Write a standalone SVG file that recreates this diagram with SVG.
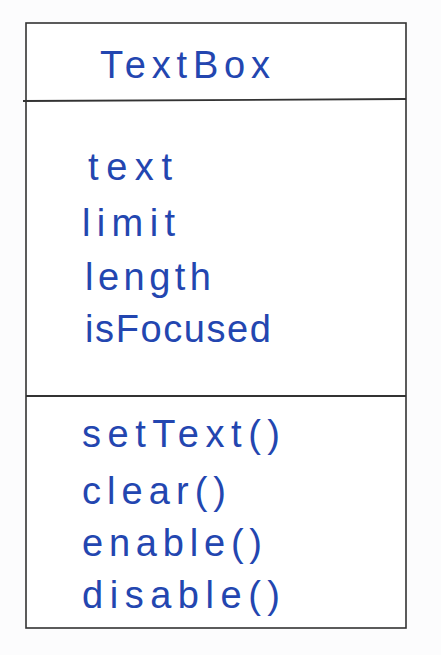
<svg xmlns="http://www.w3.org/2000/svg" width="441" height="655" viewBox="0 0 441 655">
<style>
.bg{fill:#fcfcfd}
.box{fill:#ffffff;stroke:#333;stroke-width:1.6}
.ln{stroke:#333;stroke-width:1.8;fill:none}
.t{font-family:"Liberation Sans",Arial,sans-serif;font-size:38px;fill:#2346b0;lengthAdjust:spacing}
</style>
<rect class="bg" x="0" y="0" width="441" height="655"/>
<g id="textbox-class">
<rect class="box" x="26" y="23" width="380" height="605"/>
<text class="t" x="100" y="78" textLength="170" lengthAdjust="spacing">TextBox</text>
</g>
<g id="connectors">
<path class="ln" d="M23 101 L406 99"/>
<path class="ln" d="M26 396 L406 396"/>
</g>
<g id="attributes">
<text class="t" x="88" y="180" textLength="84" lengthAdjust="spacing">text</text>
<text class="t" x="82" y="236" textLength="93" lengthAdjust="spacing">limit</text>
<text class="t" x="85" y="290" textLength="126" lengthAdjust="spacing">length</text>
<text class="t" x="85" y="342" textLength="186" lengthAdjust="spacing">isFocused</text>
</g>
<g id="methods">
<text class="t" x="82" y="447" textLength="198" lengthAdjust="spacing">setText()</text>
<text class="t" x="82" y="504" textLength="144" lengthAdjust="spacing">clear()</text>
<text class="t" x="82" y="556" textLength="180" lengthAdjust="spacing">enable()</text>
<text class="t" x="82" y="608" textLength="198" lengthAdjust="spacing">disable()</text>
</g>
</svg>
